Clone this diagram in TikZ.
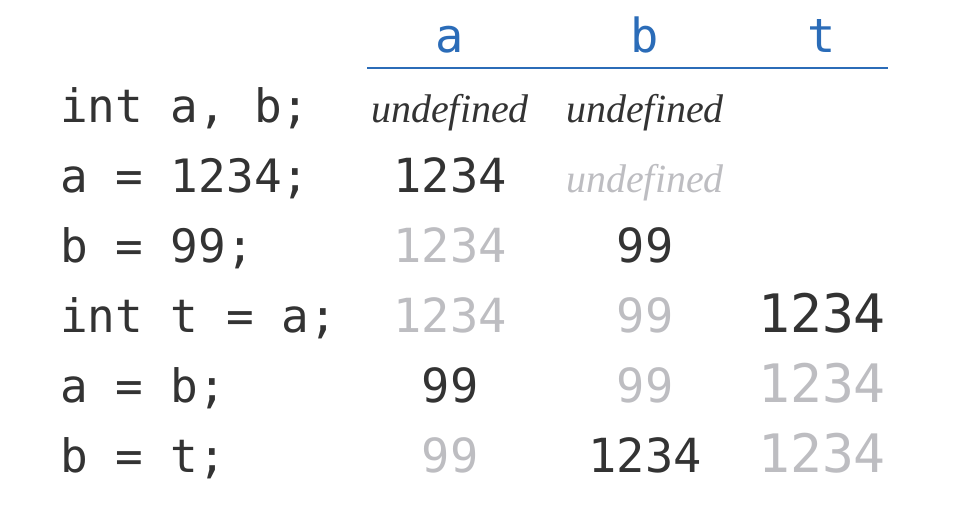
\documentclass[tikz,border=0pt]{standalone}
\usepackage{fontspec}
\setmainfont{Liberation Serif}
\setmonofont{DejaVu Sans Mono}
\usepackage{tikz}
\usetikzlibrary{positioning}
\definecolor{headblue}{HTML}{2B6CB8}
\definecolor{ink}{HTML}{333333}
\definecolor{faded}{HTML}{BDBDC1}

\begin{document}
\begin{tikzpicture}[x=1pt,y=-1pt,
  code/.style={anchor=base west, inner sep=0pt, text=ink, font=\ttfamily\fontsize{46}{46}\selectfont},
  val/.style={anchor=base, inner sep=0pt, text=ink, font=\ttfamily\fontsize{47}{47}\selectfont},
  tval/.style={val, font=\ttfamily\fontsize{53}{53}\selectfont},
  old/.style={text=faded},
  undef/.style={anchor=base, inner sep=0pt, text=ink, font=\itshape\fontsize{40}{40}\selectfont},
  head/.style={val, text=headblue}]

\useasboundingbox (0,0) rectangle (957,514);

% column heads
\path
(450,52) node[head] (ha) {a}
(645,52) node[head] (hb) {b}
(822,52) node[head] (ht) {t};
\draw[headblue, line width=2.8pt] (367,68) -- (888,68);

% statements
\path
(60,122) node[code] (s1) {int a, b;}
(60,192) node[code] (s2) {a = 1234;}
(60,262) node[code] (s3) {b = 99;}
(60,332) node[code] (s4) {int t = a;}
(60,402) node[code] (s5) {a = b;}
(60,472) node[code] (s6) {b = t;};

% values of a
\path
(450,122) node[undef] (a1) {undefined}
(450,192) node[val] (a2) {1234}
(450,262) node[val, old] (a3) {1234}
(450,332) node[val, old] (a4) {1234}
(450,402) node[val] (a5) {99}
(450,472) node[val, old] (a6) {99};

% values of b
\path
(645,122) node[undef] (b1) {undefined}
(645,192) node[undef, old] (b2) {undefined}
(645,262) node[val] (b3) {99}
(645,332) node[val, old] (b4) {99}
(645,402) node[val, old] (b5) {99}
(645,472) node[val] (b6) {1234};

% values of t
\path
(822,332) node[tval] (t4) {1234}
(822,402) node[tval, old] (t5) {1234}
(822,472) node[tval, old] (t6) {1234};

\end{tikzpicture}
\end{document}
